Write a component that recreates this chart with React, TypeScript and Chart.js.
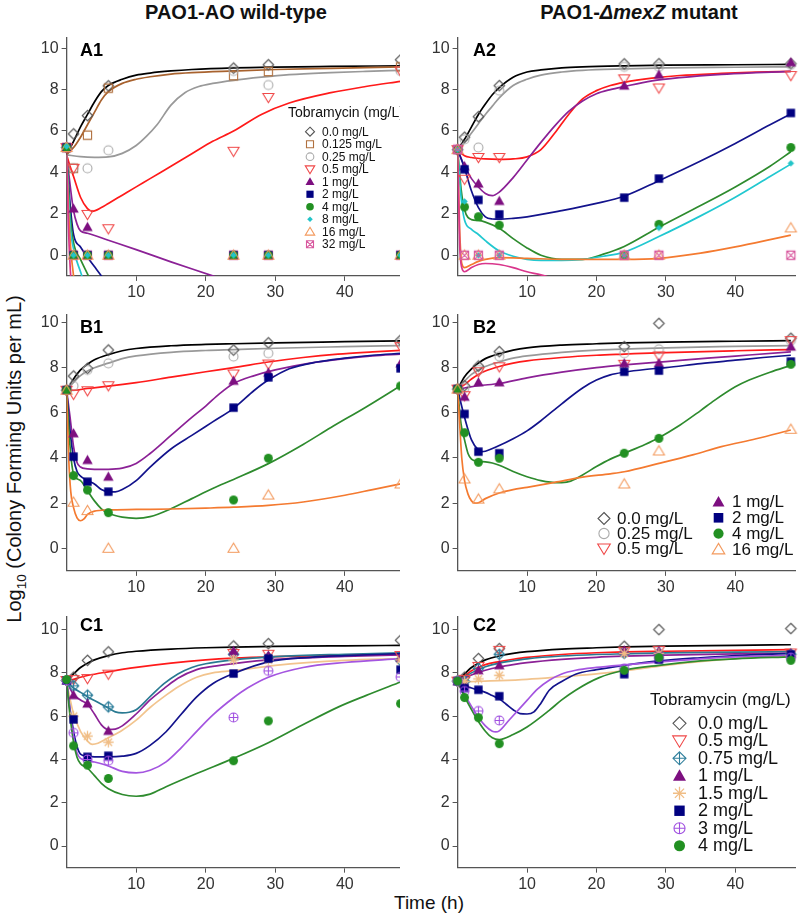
import React, { useEffect, useRef } from 'react';
import { Chart, registerables } from 'chart.js';

Chart.register(...registerables);

const FONT = '"Liberation Sans", Arial, Helvetica, sans-serif';

// ---------- data ----------
const OBS_TIME = [0, 1, 3, 6, 24, 29, 48];
const X_TICKS = [10, 20, 30, 40];
const Y_TICKS = [0, 2, 4, 6, 8, 10];

// A1 observed
const A1_OBS_0 = [5.2, 5.86, 6.74, 8.18, 9.04, 9.2, 9.44];
const A1_OBS_0125 = [5.2, 4.2, 5.8, 8.07, 8.67, 8.87, 9.1];
const A1_OBS_025 = [5.2, 4.2, 4.2, 5.07, 8.9, 8.22, 8.9];
const A1_OBS_05 = [5.2, 4.2, 1.97, 1.28, 5.02, 7.62, 8.9];
const A1_OBS_1 = [5.2, 2.25, 1.36, 0, 0, 0, 0];
const A1_OBS_2 = [5.2, 0, 0, 0, 0, 0, 0];
const A1_OBS_4 = [5.2, 0, 0, 0, 0, 0, 0];
const A1_OBS_8 = [5.25, 0, 0, 0, 0, 0, 0];
const A1_OBS_16 = [5.2, 0, 0, 0, 0, 0, 0];
const A1_OBS_32 = [5.2, 0, 0, 0, 0, 0, 0];
// A1 fitted
const A1_FIT_0 = [[0, 4.85], [1, 5.5], [2, 6.2], [3, 6.8], [4, 7.4], [5, 7.9], [6, 8.2], [8, 8.5], [10, 8.7], [12, 8.8], [15, 8.9], [18, 8.97], [24, 9.05], [30, 9.09], [38, 9.12], [48, 9.15]];
const A1_FIT_0125 = [[0, 4.85], [1, 5.2], [2, 5.7], [3, 6.3], [4, 6.9], [5, 7.5], [6, 7.9], [8, 8.3], [10, 8.5], [12, 8.62], [15, 8.75], [18, 8.82], [24, 8.9], [30, 8.97], [38, 9.03], [48, 9.1]];
const A1_FIT_025 = [[0, 4.85], [2, 4.76], [4, 4.73], [6, 4.75], [8, 4.92], [10, 5.3], [11.5, 5.75], [13, 6.3], [15, 7.25], [17, 7.85], [19, 8.15], [21, 8.3], [24, 8.45], [28, 8.6], [32, 8.72], [38, 8.82], [43, 8.88], [48, 8.93]];
const A1_FIT_05 = [[0, 4.85], [0.5, 4.3], [1, 3.8], [2, 2.8], [3, 2.25], [3.7, 2.12], [5, 2.3], [6, 2.5], [8, 2.9], [10, 3.3], [12, 3.7], [15, 4.3], [18, 4.9], [21, 5.5], [24, 6.0], [28, 6.8], [32, 7.35], [38, 7.85], [43, 8.15], [48, 8.4]];
const A1_FIT_1 = [[0, 4.85], [0.5, 3.4], [1, 2.15], [1.5, 1.5], [2, 1.17], [3, 1.06], [6, 0.72], [10, 0.27], [15, -0.32], [21, -1.0], [24, -1.35]];
const A1_FIT_2 = [[0, 4.85], [0.5, 2.5], [1, 1.0], [2, 0.4], [3, -0.1], [4, -0.55], [5, -1.0], [6, -1.5]];
const A1_FIT_4 = [[0, 4.85], [0.5, 2.0], [1, 0.6], [2, -0.2], [3, -0.9], [4, -1.6]];
const A1_FIT_8 = [[0, 4.85], [0.5, 1.5], [1, 0.3], [2, -0.8], [3, -1.8]];
const A1_FIT_16 = [[0, 4.85], [0.3, 2.0], [0.6, 0.3], [1, -1.0], [1.5, -2.0]];
const A1_FIT_32 = [[0, 4.85], [0.25, 1.5], [0.5, -0.5], [0.8, -2.0]];

// A2 observed
const A2_OBS_0 = [5.1, 5.7, 6.69, 8.19, 9.24, 9.25, 9.25];
const A2_OBS_025 = [5.1, 5.6, 5.2, 7.95, 9.1, 9.1, 9.2];
const A2_OBS_05 = [5.1, 3.67, 4.72, 4.72, 8.52, 8.08, 8.68];
const A2_OBS_1 = [5.1, 4.3, 3.46, 2.62, 8.19, 8.72, 9.32];
const A2_OBS_2 = [5.1, 4.15, 2.67, 1.97, 2.78, 3.7, 6.87];
const A2_OBS_4 = [5.1, 2.33, 1.86, 1.45, 0, 1.49, 5.2];
const A2_OBS_8 = [5.1, 2.6, 0, 0, 0, 1.32, 4.44];
const A2_OBS_16 = [5.1, 0, 0, 0, 0, 0, 1.32];
const A2_OBS_32 = [5.12, 0, 0, 0, 0, 0, 0];
// A2 fitted
const A2_FIT_0 = [[0, 5.1], [1, 5.6], [2, 6.2], [3, 6.8], [4, 7.3], [5, 7.75], [6, 8.1], [8, 8.6], [10, 8.85], [12, 8.95], [15, 9.05], [18, 9.1], [24, 9.15], [30, 9.18], [40, 9.2], [48, 9.22]];
const A2_FIT_025 = [[0, 5.1], [1, 5.45], [2, 5.9], [3, 6.35], [4, 6.8], [5, 7.2], [6, 7.6], [8, 8.2], [10, 8.5], [12, 8.7], [15, 8.85], [18, 8.93], [24, 9.0], [30, 9.05], [40, 9.08], [48, 9.1]];
const A2_FIT_05 = [[0, 5.1], [1, 4.8], [2, 4.72], [4, 4.65], [6, 4.63], [8, 4.65], [10, 4.75], [12, 5.1], [14, 5.9], [16, 6.8], [18, 7.55], [20, 7.95], [22, 8.2], [24, 8.35], [28, 8.55], [32, 8.68], [38, 8.78], [43, 8.84], [48, 8.88]];
const A2_FIT_1 = [[0, 5.1], [1, 4.3], [2, 3.7], [3, 3.3], [4, 2.98], [5, 2.88], [6, 3.05], [8, 3.75], [10, 4.6], [12, 5.45], [14, 6.25], [16, 6.95], [18, 7.45], [20, 7.8], [22, 8.0], [24, 8.15], [28, 8.42], [32, 8.58], [38, 8.74], [43, 8.82], [48, 8.88]];
const A2_FIT_2 = [[0, 5.1], [1, 4.2], [2, 3.1], [3, 2.3], [4, 1.85], [5, 1.75], [6, 1.74], [8, 1.78], [10, 1.85], [15, 2.15], [20, 2.5], [24, 2.85], [29, 3.6], [35, 4.55], [40, 5.4], [45, 6.3], [48, 6.82]];
const A2_FIT_4 = [[0, 5.1], [0.5, 3.2], [1, 2.2], [2, 1.72], [3, 1.68], [4, 1.6], [6, 1.3], [8, 0.8], [10, 0.35], [12, 0.0], [15, -0.2], [18, -0.2], [21, 0.05], [24, 0.42], [29, 1.35], [35, 2.4], [40, 3.3], [45, 4.3], [48, 5.0]];
const A2_FIT_8 = [[0, 5.1], [0.5, 2.8], [1, 1.7], [2, 1.25], [3, 1.0], [4, 0.7], [6, 0.2], [8, -0.05], [10, -0.2], [12, -0.25], [15, -0.25], [18, -0.2], [21, -0.05], [24, 0.15], [29, 0.9], [35, 1.9], [40, 2.8], [45, 3.8], [48, 4.4]];
const A2_FIT_16 = [[0, 5.1], [0.3, 1.2], [0.6, -0.4], [1, -0.6], [2, -0.45], [3, -0.3], [4, -0.2], [6, -0.12], [10, -0.15], [15, -0.2], [20, -0.2], [24, -0.2], [29, -0.15], [35, 0.1], [40, 0.4], [45, 0.75], [48, 0.97]];
const A2_FIT_32 = [[0, 5.1], [0.3, 0.5], [0.6, -0.6], [1, -0.8], [2, -0.6], [3, -0.45], [4, -0.4], [6, -0.45], [8, -0.6], [10, -0.8], [12, -0.95], [14, -1.15]];

// B1 observed
const B1_OBS_0 = [7.0, 7.63, 7.97, 8.78, 8.78, 9.1, 9.22];
const B1_OBS_025 = [7.0, 7.19, 7.9, 8.19, 8.49, 8.64, 9.1];
const B1_OBS_05 = [7.0, 6.82, 6.98, 7.2, 7.72, 8.16, 8.93];
const B1_OBS_1 = [7.0, 5.09, 3.91, 3.17, 7.42, 7.78, 8.19];
const B1_OBS_2 = [7.0, 4.06, 2.95, 2.51, 6.23, 7.57, 7.97];
const B1_OBS_4 = [7.0, 3.22, 2.58, 1.58, 2.14, 3.99, 7.19];
const B1_OBS_16 = [7.0, 2.04, 1.67, 0, 0, 2.36, 2.85];
// B1 fitted
const B1_FIT_0 = [[0, 7.0], [1, 7.5], [2, 7.9], [3, 8.15], [4, 8.35], [6, 8.58], [8, 8.75], [10, 8.85], [15, 8.97], [20, 9.03], [24, 9.06], [30, 9.1], [40, 9.15], [48, 9.19]];
const B1_FIT_025 = [[0, 7.0], [1, 7.35], [2, 7.65], [3, 7.85], [4, 8.0], [6, 8.2], [8, 8.4], [10, 8.52], [15, 8.68], [20, 8.76], [24, 8.8], [30, 8.86], [40, 8.93], [48, 8.98]];
const B1_FIT_05 = [[0, 7.0], [1, 7.0], [3, 7.08], [6, 7.18], [10, 7.34], [15, 7.58], [20, 7.82], [24, 8.0], [29, 8.25], [34, 8.45], [39, 8.6], [44, 8.7], [48, 8.77]];
const B1_FIT_1 = [[0, 7.0], [0.5, 5.8], [1, 4.5], [1.5, 3.8], [2, 3.6], [3, 3.52], [4, 3.5], [6, 3.5], [8, 3.55], [10, 3.76], [12, 4.2], [15, 5.0], [18, 5.8], [20, 6.3], [22, 6.85], [24, 7.3], [27, 7.65], [30, 7.9], [35, 8.2], [40, 8.4], [44, 8.52], [48, 8.6]];
const B1_FIT_2 = [[0, 7.0], [0.5, 5.2], [1, 4.0], [1.5, 3.4], [2, 3.2], [3, 3.0], [4, 2.85], [5, 2.6], [6, 2.5], [7, 2.5], [8, 2.6], [10, 3.0], [12, 3.6], [15, 4.4], [18, 5.0], [21, 5.6], [24, 6.2], [27, 7.0], [29, 7.45], [32, 7.95], [36, 8.25], [40, 8.42], [44, 8.55], [48, 8.63]];
const B1_FIT_4 = [[0, 7.0], [0.5, 4.5], [1, 3.3], [2, 3.0], [3, 2.55], [4, 2.1], [5, 1.75], [6, 1.55], [8, 1.38], [10, 1.33], [12, 1.4], [15, 1.75], [18, 2.2], [21, 2.65], [24, 3.05], [29, 3.75], [34, 4.6], [38, 5.35], [43, 6.25], [48, 7.2]];
const B1_FIT_16 = [[0, 7.0], [0.3, 4.0], [0.6, 2.5], [1, 1.8], [1.5, 1.35], [2, 1.22], [2.5, 1.3], [3, 1.5], [4, 1.65], [6, 1.7], [10, 1.72], [15, 1.74], [20, 1.78], [24, 1.82], [29, 1.9], [34, 2.05], [40, 2.35], [44, 2.6], [48, 2.85]];

// B2 observed
const B2_OBS_0 = [7.05, 7.2, 8.07, 8.71, 8.93, 9.96, 9.3];
const B2_OBS_025 = [7.05, 7.1, 7.9, 8.5, 8.64, 8.81, 9.2];
const B2_OBS_05 = [7.05, 6.76, 7.82, 8.04, 8.15, 8.52, 9.2];
const B2_OBS_1 = [7.05, 6.71, 7.35, 7.35, 8.19, 8.2, 8.93];
const B2_OBS_2 = [7.05, 5.95, 4.28, 4.21, 7.82, 7.87, 8.27];
const B2_OBS_4 = [7.05, 5.12, 3.81, 3.99, 4.21, 4.87, 8.15];
const B2_OBS_16 = [7.05, 3.07, 2.18, 2.63, 2.85, 4.31, 5.27];
// B2 fitted
const B2_FIT_0 = [[0, 7.05], [1, 7.6], [2, 7.95], [3, 8.2], [4, 8.4], [6, 8.62], [8, 8.78], [10, 8.88], [15, 9.0], [20, 9.06], [24, 9.1], [30, 9.13], [40, 9.17], [48, 9.2]];
const B2_FIT_025 = [[0, 7.05], [1, 7.4], [2, 7.7], [3, 7.9], [4, 8.05], [6, 8.25], [8, 8.42], [10, 8.52], [15, 8.68], [20, 8.78], [24, 8.82], [30, 8.88], [40, 8.94], [48, 8.98]];
const B2_FIT_05 = [[0, 7.05], [1, 7.25], [2, 7.5], [3, 7.7], [4, 7.85], [6, 8.05], [8, 8.2], [10, 8.3], [15, 8.45], [20, 8.55], [24, 8.6], [30, 8.67], [40, 8.75], [48, 8.8]];
const B2_FIT_1 = [[0, 7.05], [1, 7.1], [3, 7.2], [6, 7.3], [10, 7.55], [15, 7.8], [20, 8.0], [24, 8.12], [30, 8.27], [36, 8.42], [42, 8.56], [48, 8.7]];
const B2_FIT_2 = [[0, 7.05], [0.5, 6.4], [1, 5.8], [2, 4.8], [3, 4.35], [3.5, 4.28], [4, 4.3], [6, 4.55], [8, 4.85], [10, 5.2], [12, 5.65], [15, 6.4], [18, 7.1], [20, 7.45], [22, 7.68], [24, 7.8], [27, 7.92], [30, 8.0], [35, 8.18], [40, 8.33], [44, 8.45], [48, 8.55]];
const B2_FIT_4 = [[0, 7.05], [0.5, 5.5], [1, 4.8], [1.5, 4.2], [2, 3.95], [3, 3.85], [4, 3.83], [5, 3.78], [6, 3.68], [8, 3.4], [10, 3.17], [12, 3.0], [14.5, 2.91], [16, 2.95], [18, 3.25], [20, 3.62], [22, 3.95], [24, 4.21], [27, 4.6], [29, 4.9], [32, 5.45], [35, 6.1], [37, 6.55], [40, 7.15], [42, 7.45], [45, 7.8], [48, 8.1]];
const B2_FIT_16 = [[0, 7.05], [0.3, 5.5], [0.6, 4.0], [1, 3.0], [1.5, 2.4], [2, 2.1], [2.5, 2.0], [3, 2.02], [4, 2.2], [6, 2.45], [8, 2.6], [10, 2.7], [14, 2.92], [18, 3.15], [22, 3.3], [24, 3.39], [29, 3.76], [34, 4.15], [38, 4.5], [43, 4.85], [48, 5.24]];

// C1 observed
const C1_OBS_0 = [7.65, 7.8, 8.58, 8.97, 9.24, 9.35, 9.51];
const C1_OBS_05 = [7.65, 7.69, 7.74, 7.94, 8.9, 8.86, 8.8];
const C1_OBS_075 = [7.65, 7.4, 6.97, 6.43, 8.86, 8.71, 8.58];
const C1_OBS_1 = [7.65, 6.97, 6.58, 5.32, 9.01, 8.8, 8.7];
const C1_OBS_15 = [7.65, 6.0, 5.08, 4.8, 8.6, 8.6, 8.6];
const C1_OBS_2 = [7.65, 5.85, 4.12, 4.17, 7.97, 8.66, 8.15];
const C1_OBS_3 = [7.65, 5.23, 4.0, 3.94, 5.94, 8.09, 7.81];
const C1_OBS_4 = [7.69, 4.63, 3.74, 3.12, 3.94, 5.78, 6.58];
// C1 fitted
const C1_FIT_0 = [[0, 7.6], [1, 7.95], [2, 8.25], [3, 8.45], [4, 8.6], [6, 8.8], [8, 8.93], [10, 9.0], [15, 9.1], [20, 9.16], [24, 9.19], [30, 9.22], [40, 9.25], [48, 9.27]];
const C1_FIT_05 = [[0, 7.6], [1, 7.7], [2, 7.8], [3, 7.88], [6, 8.05], [10, 8.25], [15, 8.45], [20, 8.6], [24, 8.68], [30, 8.75], [40, 8.82], [48, 8.85]];
const C1_FIT_075 = [[0, 7.6], [1, 7.3], [2, 7.1], [3, 6.9], [4, 6.72], [6, 6.38], [7, 6.2], [8, 6.15], [9, 6.18], [10, 6.3], [12, 6.9], [14, 7.5], [16, 7.95], [18, 8.25], [20, 8.42], [24, 8.6], [30, 8.75], [40, 8.86], [48, 8.92]];
const C1_FIT_1 = [[0, 7.6], [1, 7.0], [2, 6.75], [3, 6.55], [4, 6.1], [5, 5.6], [6, 5.38], [7, 5.4], [8, 5.55], [10, 6.1], [12, 6.75], [14.3, 7.35], [16, 7.75], [18.7, 8.15], [21, 8.3], [24, 8.43], [30, 8.62], [40, 8.76], [48, 8.83]];
const C1_FIT_15 = [[0, 7.6], [0.5, 6.8], [1, 6.1], [2, 5.3], [3, 4.85], [3.7, 4.7], [4.5, 4.75], [6, 5.0], [8, 5.35], [10, 5.82], [12, 6.4], [14.3, 6.97], [16, 7.35], [18.7, 7.8], [21, 8.0], [24, 8.1], [30, 8.35], [40, 8.58], [48, 8.66]];
const C1_FIT_2 = [[0, 7.6], [0.5, 6.3], [1, 5.3], [1.5, 4.6], [2, 4.25], [3, 4.15], [4, 4.12], [6, 4.12], [8, 4.15], [10, 4.28], [12, 4.65], [14.3, 5.28], [16.5, 6.1], [18.7, 6.89], [21, 7.5], [24, 7.97], [29, 8.51], [35, 8.72], [40, 8.8], [48, 8.89]];
const C1_FIT_3 = [[0, 7.6], [0.5, 6.2], [1, 5.0], [1.5, 4.3], [2, 4.05], [3, 3.95], [4, 3.88], [6, 3.7], [8, 3.45], [10, 3.38], [12, 3.5], [14.3, 3.89], [16.5, 4.55], [18.7, 5.3], [21, 6.05], [24, 6.85], [26, 7.3], [29, 7.8], [34, 8.25], [40, 8.48], [48, 8.66]];
const C1_FIT_4 = [[0, 7.6], [0.5, 6.0], [1, 4.8], [1.5, 4.1], [2, 3.8], [3, 3.6], [4, 3.25], [5, 2.9], [6, 2.65], [8, 2.38], [10, 2.3], [12, 2.4], [14.3, 2.74], [18.7, 3.35], [24, 4.05], [29, 4.77], [34.3, 5.66], [39.1, 6.43], [43, 6.95], [48, 7.58]];

// C2 observed
const C2_OBS_0 = [7.62, 7.8, 8.66, 9.12, 9.23, 10.0, 10.05];
const C2_OBS_05 = [7.62, 7.7, 8.3, 9.04, 9.0, 9.04, 8.92];
const C2_OBS_075 = [7.62, 7.6, 8.2, 8.86, 8.9, 8.9, 8.86];
const C2_OBS_1 = [7.62, 7.5, 8.12, 8.35, 9.04, 9.01, 8.9];
const C2_OBS_15 = [7.62, 7.6, 7.72, 7.89, 8.9, 8.9, 8.8];
const C2_OBS_2 = [7.62, 7.3, 7.22, 6.92, 7.94, 8.61, 8.85];
const C2_OBS_3 = [7.62, 7.16, 6.24, 5.8, 8.2, 8.7, 8.7];
const C2_OBS_4 = [7.62, 6.86, 5.93, 4.73, 8.12, 8.71, 8.58];
// C2 fitted
const C2_FIT_0 = [[0, 7.6], [1, 7.95], [2, 8.25], [3, 8.45], [4, 8.6], [6, 8.78], [8, 8.9], [10, 8.98], [15, 9.1], [20, 9.16], [24, 9.2], [30, 9.24], [40, 9.27], [48, 9.3]];
const C2_FIT_05 = [[0, 7.6], [1, 7.85], [2, 8.1], [3, 8.25], [4, 8.38], [6, 8.52], [8, 8.63], [10, 8.72], [15, 8.85], [20, 8.93], [24, 8.97], [30, 9.0], [40, 9.04], [48, 9.07]];
const C2_FIT_075 = [[0, 7.6], [1, 7.8], [2, 8.0], [3, 8.15], [4, 8.28], [6, 8.45], [8, 8.56], [10, 8.65], [15, 8.78], [20, 8.85], [24, 8.88], [30, 8.92], [40, 8.96], [48, 8.98]];
const C2_FIT_1 = [[0, 7.6], [1, 7.75], [2, 7.9], [3, 8.02], [4, 8.12], [6, 8.27], [8, 8.38], [10, 8.47], [15, 8.62], [20, 8.72], [24, 8.77], [30, 8.82], [40, 8.88], [48, 8.9]];
const C2_FIT_15 = [[0, 7.6], [2, 7.6], [4, 7.62], [6, 7.64], [10, 7.7], [15, 7.82], [20, 7.95], [24, 8.1], [30, 8.35], [36, 8.55], [42, 8.7], [48, 8.8]];
const C2_FIT_2 = [[0, 7.6], [1, 7.4], [2, 7.3], [3, 7.2], [4, 7.1], [5, 6.95], [6, 6.8], [7, 6.55], [8, 6.3], [9, 6.12], [10, 6.1], [11, 6.2], [12, 6.6], [13.2, 7.2], [15, 7.6], [17, 7.94], [20, 8.15], [24, 8.35], [29, 8.55], [35, 8.7], [40, 8.8], [48, 8.9]];
const C2_FIT_3 = [[0, 7.6], [1, 7.0], [2, 6.45], [3, 5.95], [4, 5.55], [5, 5.3], [5.5, 5.27], [6, 5.32], [7.4, 5.81], [8.5, 6.2], [10, 6.73], [11.5, 7.25], [13.2, 7.66], [15, 7.95], [17, 8.12], [20, 8.25], [24, 8.37], [29, 8.5], [35, 8.65], [40, 8.74], [48, 8.81]];
const C2_FIT_4 = [[0, 7.6], [1, 6.9], [2, 6.3], [3, 5.75], [4, 5.3], [5, 5.0], [6, 4.92], [8, 5.15], [10, 5.5], [13.2, 6.27], [15, 6.75], [17, 7.2], [20.4, 7.78], [24, 8.12], [29, 8.35], [35, 8.55], [40, 8.65], [48, 8.74]];

const KEYS_A1 = ['0', '0.125', '0.25', '0.5', '1', '2', '4', '8', '16', '32'];
const KEYS_A2 = ['0', '0.25', '0.5', '1', '2', '4', '8', '16', '32'];
const KEYS_B = ['0', '0.25', '0.5', '1', '2', '4', '16'];
const KEYS_C = ['0', '0.5', '0.75', '1', '1.5', '2', '3', '4'];
// marker stacking (first = bottom, last = top) for A1, where the crowded zero row shows cyan on top
const A1_MARKER_STACK = ['0', '0.125', '0.25', '0.5', '32', '1', '2', '4', '16', '8'];

const LABELS: Record<string, string> = {
  '0': '0.0 mg/L', '0.125': '0.125 mg/L', '0.25': '0.25 mg/L', '0.5': '0.5 mg/L', '0.75': '0.75 mg/L',
  '1': '1 mg/L', '1.5': '1.5 mg/L', '2': '2 mg/L', '3': '3 mg/L', '4': '4 mg/L', '8': '8 mg/L',
  '16': '16 mg/L', '32': '32 mg/L',
};

// ---------- styles ----------
const STYLE: Record<string, { line: string; marker: string; mcolor: string }> = {
  '0': { line: '#000000', marker: 'diamondOpen', mcolor: '#555555' },
  '0.125': { line: '#a8622e', marker: 'squareOpen', mcolor: '#b0703e' },
  '0.25': { line: '#999999', marker: 'circleOpen', mcolor: '#aaaaaa' },
  '0.5': { line: '#ff1a1a', marker: 'triDownOpen', mcolor: '#f04848' },
  '0.75': { line: '#2a7a92', marker: 'diamondPlus', mcolor: '#2f7f9c' },
  '1': { line: '#8b2196', marker: 'triUp', mcolor: '#7d0f80' },
  '1.5': { line: '#f2c48e', marker: 'asterisk', mcolor: '#f0bd85' },
  '2': { line: '#13138c', marker: 'square', mcolor: '#000080' },
  '3': { line: '#a455e0', marker: 'circlePlus', mcolor: '#a050e0' },
  '4': { line: '#2e8b2e', marker: 'circle', mcolor: '#229022' },
  '8': { line: '#22c8d0', marker: 'diamondSmall', mcolor: '#22c4c8' },
  '16': { line: '#f47a30', marker: 'triUpOpen', mcolor: '#f39a5e' },
  '32': { line: '#d9368c', marker: 'squareX', mcolor: '#d8589e' },
};

function drawMarker(ctx: CanvasRenderingContext2D, kind: string, color: string, cx: number, cy: number, s: number) {
  const r = s / 2;
  ctx.save();
  ctx.strokeStyle = color;
  ctx.fillStyle = color;
  ctx.lineWidth = 1.1;
  ctx.beginPath();
  const diamond = (rr: number) => {
    ctx.moveTo(cx, cy - rr);
    ctx.lineTo(cx + rr, cy);
    ctx.lineTo(cx, cy + rr);
    ctx.lineTo(cx - rr, cy);
    ctx.closePath();
  };
  switch (kind) {
    case 'diamondOpen':
      diamond(r);
      ctx.stroke();
      break;
    case 'diamondPlus':
      diamond(r);
      ctx.moveTo(cx, cy - r); ctx.lineTo(cx, cy + r);
      ctx.moveTo(cx - r, cy); ctx.lineTo(cx + r, cy);
      ctx.stroke();
      break;
    case 'diamondSmall':
      diamond(r * 0.62);
      ctx.fill();
      break;
    case 'squareOpen':
      ctx.rect(cx - r * 0.78, cy - r * 0.78, r * 1.56, r * 1.56);
      ctx.stroke();
      break;
    case 'squareX':
      ctx.rect(cx - r * 0.78, cy - r * 0.78, r * 1.56, r * 1.56);
      ctx.moveTo(cx - r * 0.78, cy - r * 0.78); ctx.lineTo(cx + r * 0.78, cy + r * 0.78);
      ctx.moveTo(cx + r * 0.78, cy - r * 0.78); ctx.lineTo(cx - r * 0.78, cy + r * 0.78);
      ctx.stroke();
      break;
    case 'square':
      ctx.rect(cx - r * 0.8, cy - r * 0.8, r * 1.6, r * 1.6);
      ctx.fill();
      break;
    case 'circleOpen':
      ctx.arc(cx, cy, r * 0.85, 0, Math.PI * 2);
      ctx.stroke();
      break;
    case 'circlePlus':
      ctx.arc(cx, cy, r * 0.85, 0, Math.PI * 2);
      ctx.moveTo(cx, cy - r * 0.85); ctx.lineTo(cx, cy + r * 0.85);
      ctx.moveTo(cx - r * 0.85, cy); ctx.lineTo(cx + r * 0.85, cy);
      ctx.stroke();
      break;
    case 'circle':
      ctx.arc(cx, cy, r * 0.85, 0, Math.PI * 2);
      ctx.fill();
      break;
    case 'triUp':
      ctx.moveTo(cx, cy - r);
      ctx.lineTo(cx + r, cy + r * 0.75);
      ctx.lineTo(cx - r, cy + r * 0.75);
      ctx.closePath();
      ctx.fill();
      break;
    case 'triUpOpen':
      ctx.moveTo(cx, cy - r);
      ctx.lineTo(cx + r * 1.05, cy + r * 0.75);
      ctx.lineTo(cx - r * 1.05, cy + r * 0.75);
      ctx.closePath();
      ctx.stroke();
      break;
    case 'triDownOpen':
      ctx.moveTo(cx - r * 1.05, cy - r * 0.75);
      ctx.lineTo(cx + r * 1.05, cy - r * 0.75);
      ctx.lineTo(cx, cy + r);
      ctx.closePath();
      ctx.stroke();
      break;
    case 'asterisk': {
      ctx.lineWidth = 1.3;
      for (let k = 0; k < 4; k++) {
        const a = (k * Math.PI) / 4;
        ctx.moveTo(cx - Math.cos(a) * r, cy - Math.sin(a) * r);
        ctx.lineTo(cx + Math.cos(a) * r, cy + Math.sin(a) * r);
      }
      ctx.stroke();
      break;
    }
  }
  ctx.restore();
}

const markerCache = new Map<string, HTMLCanvasElement>();
function markerImage(kind: string, color: string, s: number): HTMLCanvasElement {
  const key = `${kind}|${color}|${s}`;
  const hit = markerCache.get(key);
  if (hit) return hit;
  const size = Math.ceil(s * 1.3) + 3;
  const c = document.createElement('canvas');
  c.width = size;
  c.height = size;
  const ctx = c.getContext('2d')!;
  drawMarker(ctx, kind, color, size / 2, size / 2, s);
  markerCache.set(key, c);
  return c;
}

// ---------- layout ----------
const Y_AXIS_W = 45;
const X_AXIS_H = 26;
const PX_PER_H = 7.0;
const COLS = [
  { x0: 66.6, xmax: 48.5, clip: 400, labelX: 80 },
  { x0: 457.6, xmax: 48.6, clip: 800, labelX: 473 },
];
const ROWS = [
  { y10: 48.2, y0: 255.2, ymax: 10.5, labelY: 55.5 },
  { y10: 322.4, y0: 548.3, ymax: 10.35, labelY: 333 },
  { y10: 629.3, y0: 846, ymax: 10.6, labelY: 630.5 },
];

type LegendCol = { keys: string[]; mx: number; tx: number; y0: number; dy: number };
type Legend = { title?: { text: string; x: number; y: number; size: number }; cols: LegendCol[]; size: number; msize: number };
type PanelCfg = {
  name: string; col: number; row: number; keys: string[]; stack?: string[];
  fits: Record<string, number[][]>; obs: Record<string, number[]>; legend?: Legend;
};

const PANELS: PanelCfg[] = [
  {
    name: 'A1', col: 0, row: 0, keys: KEYS_A1, stack: A1_MARKER_STACK,
    fits: { '0': A1_FIT_0, '0.125': A1_FIT_0125, '0.25': A1_FIT_025, '0.5': A1_FIT_05, '1': A1_FIT_1, '2': A1_FIT_2, '4': A1_FIT_4, '8': A1_FIT_8, '16': A1_FIT_16, '32': A1_FIT_32 },
    obs: { '0': A1_OBS_0, '0.125': A1_OBS_0125, '0.25': A1_OBS_025, '0.5': A1_OBS_05, '1': A1_OBS_1, '2': A1_OBS_2, '4': A1_OBS_4, '8': A1_OBS_8, '16': A1_OBS_16, '32': A1_OBS_32 },
    legend: {
      title: { text: 'Tobramycin (mg/L)', x: 288, y: 113.5, size: 14 },
      cols: [{ keys: KEYS_A1, mx: 310, tx: 322, y0: 131.7, dy: 12.51 }],
      size: 12, msize: 9,
    },
  },
  {
    name: 'A2', col: 1, row: 0, keys: KEYS_A2,
    fits: { '0': A2_FIT_0, '0.25': A2_FIT_025, '0.5': A2_FIT_05, '1': A2_FIT_1, '2': A2_FIT_2, '4': A2_FIT_4, '8': A2_FIT_8, '16': A2_FIT_16, '32': A2_FIT_32 },
    obs: { '0': A2_OBS_0, '0.25': A2_OBS_025, '0.5': A2_OBS_05, '1': A2_OBS_1, '2': A2_OBS_2, '4': A2_OBS_4, '8': A2_OBS_8, '16': A2_OBS_16, '32': A2_OBS_32 },
  },
  {
    name: 'B1', col: 0, row: 1, keys: KEYS_B,
    fits: { '0': B1_FIT_0, '0.25': B1_FIT_025, '0.5': B1_FIT_05, '1': B1_FIT_1, '2': B1_FIT_2, '4': B1_FIT_4, '16': B1_FIT_16 },
    obs: { '0': B1_OBS_0, '0.25': B1_OBS_025, '0.5': B1_OBS_05, '1': B1_OBS_1, '2': B1_OBS_2, '4': B1_OBS_4, '16': B1_OBS_16 },
  },
  {
    name: 'B2', col: 1, row: 1, keys: KEYS_B,
    fits: { '0': B2_FIT_0, '0.25': B2_FIT_025, '0.5': B2_FIT_05, '1': B2_FIT_1, '2': B2_FIT_2, '4': B2_FIT_4, '16': B2_FIT_16 },
    obs: { '0': B2_OBS_0, '0.25': B2_OBS_025, '0.5': B2_OBS_05, '1': B2_OBS_1, '2': B2_OBS_2, '4': B2_OBS_4, '16': B2_OBS_16 },
    legend: {
      cols: [
        { keys: ['0', '0.25', '0.5'], mx: 604, tx: 617, y0: 518.5, dy: 15 },
        { keys: ['1', '2', '4', '16'], mx: 718.5, tx: 732, y0: 502, dy: 15.8 },
      ],
      size: 17, msize: 12,
    },
  },
  {
    name: 'C1', col: 0, row: 2, keys: KEYS_C,
    fits: { '0': C1_FIT_0, '0.5': C1_FIT_05, '0.75': C1_FIT_075, '1': C1_FIT_1, '1.5': C1_FIT_15, '2': C1_FIT_2, '3': C1_FIT_3, '4': C1_FIT_4 },
    obs: { '0': C1_OBS_0, '0.5': C1_OBS_05, '0.75': C1_OBS_075, '1': C1_OBS_1, '1.5': C1_OBS_15, '2': C1_OBS_2, '3': C1_OBS_3, '4': C1_OBS_4 },
  },
  {
    name: 'C2', col: 1, row: 2, keys: KEYS_C,
    fits: { '0': C2_FIT_0, '0.5': C2_FIT_05, '0.75': C2_FIT_075, '1': C2_FIT_1, '1.5': C2_FIT_15, '2': C2_FIT_2, '3': C2_FIT_3, '4': C2_FIT_4 },
    obs: { '0': C2_OBS_0, '0.5': C2_OBS_05, '0.75': C2_OBS_075, '1': C2_OBS_1, '1.5': C2_OBS_15, '2': C2_OBS_2, '3': C2_OBS_3, '4': C2_OBS_4 },
    legend: {
      title: { text: 'Tobramycin (mg/L)', x: 650, y: 700.7, size: 17 },
      cols: [{ keys: KEYS_C, mx: 679.5, tx: 698, y0: 723.3, dy: 17.49 }],
      size: 18, msize: 13,
    },
  },
];

function geometry(p: PanelCfg) {
  const c = COLS[p.col];
  const r = ROWS[p.row];
  const unit = (r.y0 - r.y10) / 10;
  const l = c.x0;
  const rt = c.x0 + c.xmax * PX_PER_H;
  const t = r.y10 - (r.ymax - 10) * unit;
  const b = r.y0 + unit;
  const cl = Math.floor(l - Y_AXIS_W - 1);
  const ct = Math.floor(t - 12);
  const cr = Math.ceil(rt + 3);
  const cb = Math.ceil(b + X_AXIS_H);
  return {
    cl, ct, cw: cr - cl, ch: cb - ct, wrapW: Math.min(cr, c.clip) - cl,
    pad: { left: l - Y_AXIS_W - cl, top: t - ct, right: cr - rt, bottom: cb - (b + X_AXIS_H) },
    xmax: c.xmax, ymax: r.ymax, labelX: c.labelX, labelY: r.labelY,
  };
}

function buildChart(canvas: HTMLCanvasElement, p: PanelCfg) {
  const g = geometry(p);
  const datasets: any[] = [];
  // Lower order = drawn later (on top).
  p.keys.forEach((k, i) => {
    const st = STYLE[k];
    datasets.push({
      type: 'line',
      data: p.fits[k].map(([x, y]) => ({ x, y })),
      borderColor: st.line,
      backgroundColor: st.line,
      borderWidth: 1.7,
      pointRadius: 0,
      fill: false,
      cubicInterpolationMode: 'monotone',
      order: 1000 - i,
    });
  });
  const stack = p.stack || p.keys;
  p.keys.forEach((k) => {
    const st = STYLE[k];
    datasets.push({
      type: 'scatter',
      data: OBS_TIME.map((t, j) => ({ x: t, y: p.obs[k][j] })),
      pointStyle: markerImage(st.marker, st.mcolor, 10.5),
      pointRadius: 5,
      showLine: false,
      clip: false,
      order: 100 - stack.indexOf(k),
    });
  });

  const axisColor = '#555555';
  const tickFont = { size: 16, family: FONT };

  const overlay = {
    id: 'overlay',
    afterDraw(chart: any) {
      const ctx: CanvasRenderingContext2D = chart.ctx;
      ctx.save();
      ctx.fillStyle = '#000';
      ctx.textAlign = 'left';
      ctx.textBaseline = 'alphabetic';
      ctx.font = `bold 18px ${FONT}`;
      ctx.fillText(p.name, g.labelX - g.cl, g.labelY - g.ct);
      const lg = p.legend;
      if (lg) {
        ctx.textBaseline = 'middle';
        if (lg.title) {
          ctx.font = `${lg.title.size}px ${FONT}`;
          ctx.fillStyle = '#111';
          ctx.fillText(lg.title.text, lg.title.x - g.cl, lg.title.y - g.ct);
        }
        lg.cols.forEach((col) => {
          col.keys.forEach((k, i) => {
            const y = col.y0 + i * col.dy - g.ct;
            const st = STYLE[k];
            drawMarker(ctx, st.marker, st.mcolor, col.mx - g.cl, y, lg.msize);
            ctx.font = `${lg.size}px ${FONT}`;
            ctx.fillStyle = '#111';
            ctx.fillText(LABELS[k], col.tx - g.cl, y + 0.5);
          });
        });
      }
      ctx.restore();
    },
  };

  return new Chart(canvas, {
    type: 'scatter',
    data: { datasets },
    options: {
      animation: false,
      responsive: false,
      maintainAspectRatio: false,
      events: [],
      layout: { padding: g.pad },
      plugins: { legend: { display: false }, tooltip: { enabled: false } },
      scales: {
        x: {
          type: 'linear',
          min: 0,
          max: g.xmax,
          afterBuildTicks: (s: any) => { s.ticks = X_TICKS.map((v) => ({ value: v })); },
          afterFit: (s: any) => { s.height = X_AXIS_H; },
          grid: { drawOnChartArea: false, drawTicks: true, tickLength: 5, color: axisColor, lineWidth: 1 },
          border: { display: true, color: axisColor, width: 1.3 },
          ticks: { font: tickFont, color: '#333', padding: 2, maxRotation: 0, autoSkip: false },
        },
        y: {
          type: 'linear',
          min: -1,
          max: g.ymax,
          afterBuildTicks: (s: any) => { s.ticks = Y_TICKS.map((v) => ({ value: v })); },
          afterFit: (s: any) => { s.width = Y_AXIS_W; },
          grid: { drawOnChartArea: false, drawTicks: true, tickLength: 5, color: axisColor, lineWidth: 1 },
          border: { display: true, color: axisColor, width: 1.3 },
          ticks: { font: tickFont, color: '#333', padding: 3, autoSkip: false },
        },
      },
    } as any,
    plugins: [overlay],
  } as any);
}

function Panel({ p }: { p: PanelCfg }) {
  const ref = useRef<HTMLCanvasElement>(null);
  const g = geometry(p);
  useEffect(() => {
    const chart = buildChart(ref.current!, p);
    return () => chart.destroy();
  }, []);
  return (
    <div style={{ position: 'absolute', left: g.cl, top: g.ct, width: g.wrapW, height: g.ch, overflow: 'hidden' }}>
      <canvas ref={ref} width={g.cw} height={g.ch} style={{ width: g.cw, height: g.ch, display: 'block' }} />
    </div>
  );
}

export default function App() {
  return (
    <div style={{ position: 'absolute', left: 0, top: 0, width: 800, height: 914, background: '#fff', fontFamily: FONT, color: '#111', overflow: 'hidden' }}>
      <div style={{ position: 'absolute', left: 236, top: 12, transform: 'translate(-50%, -50%)', whiteSpace: 'nowrap', fontWeight: 'bold', fontSize: 20, lineHeight: 1 }}>
        PAO1-AO wild-type
      </div>
      <div style={{ position: 'absolute', left: 639, top: 12, transform: 'translate(-50%, -50%)', whiteSpace: 'nowrap', fontWeight: 'bold', fontSize: 20, lineHeight: 1 }}>
        PAO1-<i>ΔmexZ</i> mutant
      </div>
      <div style={{ position: 'absolute', left: 14, top: 459, transform: 'translate(-50%, -50%) rotate(-90deg)', whiteSpace: 'nowrap', fontSize: 20, lineHeight: 1 }}>
        Log<sub style={{ fontSize: '0.68em', lineHeight: 0 }}>10</sub> (Colony Forming Units per mL)
      </div>
      <div style={{ position: 'absolute', left: 429, top: 902, transform: 'translate(-50%, -50%)', whiteSpace: 'nowrap', fontSize: 19, lineHeight: 1 }}>
        Time (h)
      </div>
      {PANELS.map((p) => (
        <Panel key={p.name} p={p} />
      ))}
    </div>
  );
}
